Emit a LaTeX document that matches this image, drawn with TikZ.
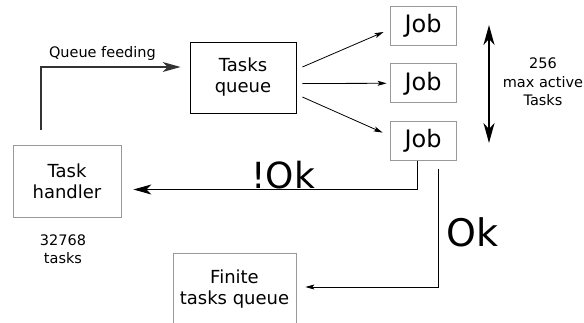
\documentclass[tikz,border=0pt]{standalone}
\usepackage{fontspec}
\setmainfont{DejaVu Sans}
\usetikzlibrary{positioning, arrows.meta}
\tikzset{
    >={Stealth[length=9pt, width=5pt, inset=2pt]}, % small heads for the thin edges
    every path/.style={line width=0.8pt},
    box/.style={draw=gray!80, line width=0.8pt, align=center, font=\fontsize{18}{21}\selectfont}, % sets the properties for each box
    jobbox/.style={box, minimum width=66pt, minimum height=39pt, inner sep=2pt, font=\fontsize{24}{28}\selectfont},
    note/.style={align=center, font=\fontsize{14.5}{18.5}\selectfont}, % small text next to the boxes
    big/.style={font=\fontsize{38}{44}\selectfont},
    bighead/.style={-{Stealth[length=18pt, width=10pt, inset=5pt]}}, % long heads of the loop back edges
}

\begin{document}
\begin{tikzpicture}[x=1pt, y=-1pt]
    \useasboundingbox (0,0) rectangle (584,322);
    \node[box, draw=black, minimum width=106pt, minimum height=71pt] (queue) at (243,77.5) {Tasks\\queue};
    \node[jobbox] (job1) at (423,26) {Job};
    \node[jobbox, below=17.5pt of job1] (job2) {Job};
    \node[jobbox, below=17.5pt of job2] (job3) {Job};
    \node[box, minimum width=108pt, minimum height=72pt] (handler) at (67,181) {Task\\handler};
    \node[box, minimum width=123pt, minimum height=72pt] (finite) at (234.5,289) {Finite\\tasks queue};
    \node[note] (handlersize) at (63,249) {32768\\tasks};
    \node[note] (maxjobs) at (543,82) {256\\max active\\Tasks};
    \coordinate (feedstart) at (41,130);
    \coordinate (okstart) at (438,169);
    \coordinate (rangetop) at (489,25);
    \coordinate (rangebottom) at (489,143);
    \draw[bighead, line width=1.3pt, draw=black!80] (feedstart) |- ([xshift=-9pt, yshift=10.5pt]queue.west)
        node[note, pos=0.72, above, yshift=3pt] {Queue feeding};
    \draw[->] ([xshift=6pt, yshift=10.5pt]queue.east) -- ([xshift=-6pt, yshift=-6pt]job1.west);
    \draw[->] ([xshift=6pt, yshift=-6pt]queue.east) -- ([xshift=-3pt]job2.west);
    \draw[->] ([xshift=6pt, yshift=-19.5pt]queue.east) -- ([xshift=-7pt, yshift=8pt]job3.west);
    \draw[bighead] ([xshift=-6pt]job3.south) |- ([xshift=12pt, yshift=-8.5pt]handler.east)
        node[big, font=\fontsize{36}{42}\selectfont, pos=0.736, anchor=base, yshift=1.5pt] {!Ok};
    \draw[->] (okstart) |- ([xshift=9pt, yshift=2pt]finite.east)
        node[big, pos=0.27, anchor=west, inner sep=8pt] {Ok};
    \draw[{Stealth[length=20pt, width=11pt, inset=6pt]}-{Stealth[length=20pt, width=11pt, inset=6pt]}, line width=2pt] (rangetop) -- (rangebottom);
\end{tikzpicture}
\end{document}
